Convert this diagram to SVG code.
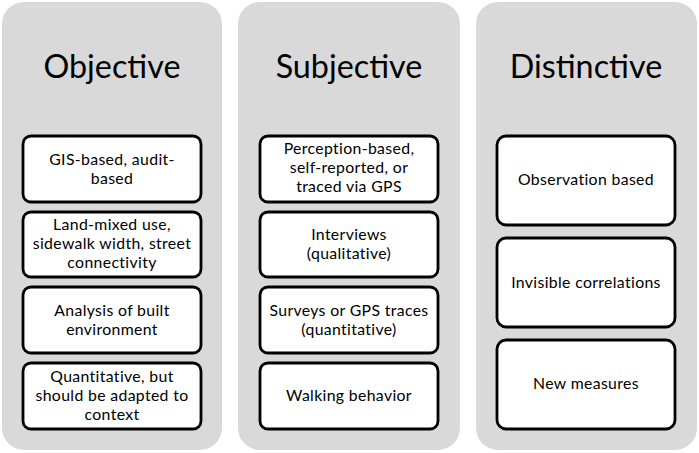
<svg xmlns="http://www.w3.org/2000/svg" width="699" height="453" viewBox="0 0 699 453">
<style>
.panel{fill:#d9d9d9;stroke:none}
.box{fill:#ffffff;stroke:#000000;stroke-width:2.8}
.title{font-family:Lato,"Open Sans",sans-serif;font-size:32.3px;fill:#000;text-anchor:middle}
.t{font-family:Lato,"Open Sans",sans-serif;font-size:15.8px;letter-spacing:0.35px;fill:#000;text-anchor:middle}
</style>
<rect width="699" height="453" fill="#ffffff"/>
<g id="col-objective">
<rect class="panel" x="2" y="2" width="220" height="448" rx="22"/>
<text class="title" x="112" y="78">Objective</text>
</g>
<g id="col-subjective">
<rect class="panel" x="238" y="2" width="222" height="448" rx="22"/>
<text class="title" x="349" y="78">Subjective</text>
</g>
<g id="col-distinctive">
<rect class="panel" x="476" y="2" width="221" height="448" rx="22"/>
<text class="title" x="586" y="78">Distinctive</text>
</g>
<g id="o1"><rect class="box" x="23" y="136" width="178" height="66" rx="8"/><text class="t" x="112" y="165">GIS-based, audit-</text><text class="t" x="112" y="184">based</text></g>
<g id="o2"><rect class="box" x="23" y="212" width="178" height="65" rx="8"/><text class="t" x="112" y="230">Land-mixed use,</text><text class="t" x="112" y="249">sidewalk width, street</text><text class="t" x="112" y="268">connectivity</text></g>
<g id="o3"><rect class="box" x="23" y="287" width="178" height="66" rx="8"/><text class="t" x="112" y="316">Analysis of built</text><text class="t" x="112" y="335">environment</text></g>
<g id="o4"><rect class="box" x="23" y="363" width="178" height="66" rx="8"/><text class="t" x="112" y="382">Quantitative, but</text><text class="t" x="112" y="401">should be adapted to</text><text class="t" x="112" y="420">context</text></g>
<g id="s1"><rect class="box" x="260" y="136" width="178" height="66" rx="8"/><text class="t" x="349" y="154">Perception-based,</text><text class="t" x="349" y="173">self-reported, or</text><text class="t" x="349" y="192">traced via GPS</text></g>
<g id="s2"><rect class="box" x="260" y="212" width="178" height="65" rx="8"/><text class="t" x="349" y="240">Interviews</text><text class="t" x="349" y="259">(qualitative)</text></g>
<g id="s3"><rect class="box" x="260" y="287" width="178" height="66" rx="8"/><text class="t" x="349" y="316">Surveys or GPS traces</text><text class="t" x="349" y="335">(quantitative)</text></g>
<g id="s4"><rect class="box" x="260" y="363" width="178" height="66" rx="8"/><text class="t" x="349" y="401">Walking behavior</text></g>
<g id="d1"><rect class="box" x="497" y="136" width="178" height="89" rx="9"/><text class="t" x="586" y="185">Observation based</text></g>
<g id="d2"><rect class="box" x="497" y="238" width="178" height="89" rx="9"/><text class="t" x="586" y="288">Invisible correlations</text></g>
<g id="d3"><rect class="box" x="497" y="340" width="178" height="89" rx="9"/><text class="t" x="586" y="389">New measures</text></g>
<g id="connectors"></g>
</svg>
